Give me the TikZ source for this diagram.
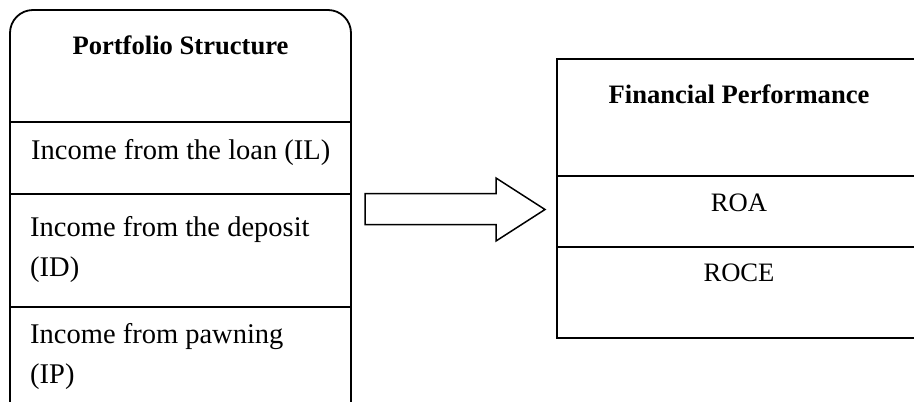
\documentclass[tikz,border=0pt]{standalone}
\usepackage{fontspec}
\setmainfont{Liberation Serif}
\begin{document}
\begin{tikzpicture}[x=1pt,y=-1pt,
  frame/.style={draw=black,line width=1.8pt},
  titletext/.style={font=\fontsize{26.6}{32}\selectfont\bfseries,inner sep=0pt},
  bodytext/.style={font=\fontsize{28.5}{40}\selectfont,inner sep=0pt,align=left},
  metrictext/.style={font=\fontsize{26.6}{32}\selectfont,inner sep=0pt}]
\useasboundingbox (0,0) rectangle (914,402);
\begin{scope}
\clip (0,0) rectangle (914,402);
% left box (open at bottom)
\draw[frame,rounded corners=23pt] (10,410) -- (10,10) -- (351,10) -- (351,410);
\draw[frame] (10,122) -- (351,122);
\draw[frame] (10,194) -- (351,194);
\draw[frame] (10,307) -- (351,307);
% right box
\draw[frame] (557,59) rectangle (921,338);
\draw[frame] (557,176) -- (921,176);
\draw[frame] (557,247) -- (921,247);
\end{scope}
% block arrow
\draw[line width=1.5pt,line join=miter] (365,193.5) -- (496,193.5) -- (496,178) -- (545,209.5)
  -- (496,241) -- (496,224.5) -- (365,224.5) -- cycle;
% texts
\node[titletext,anchor=base] (ps) at (180.5,54) {Portfolio Structure};
\node[bodytext,anchor=base west] (il) at (31,159) {Income from the loan (IL)};
\node[bodytext,anchor=base west] (id) at (30,276) {Income from the deposit\\(ID)};
\node[bodytext,anchor=base west] (ip) at (30,383) {Income from pawning\\(IP)};
\node[titletext,anchor=base] (fp) at (739,103) {Financial Performance};
\node[metrictext,anchor=base] (roa) at (739,211.5) {ROA};
\node[metrictext,anchor=base] (roce) at (739,281.5) {ROCE};
\end{tikzpicture}
\end{document}
